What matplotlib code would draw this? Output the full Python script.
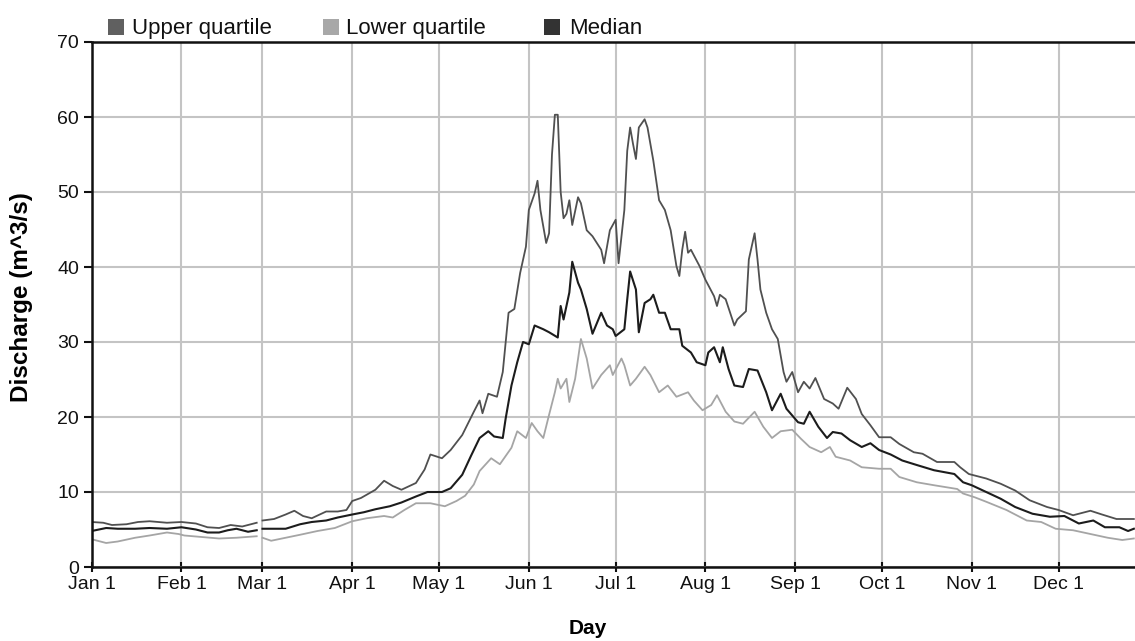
import numpy as np
import matplotlib.pyplot as plt
from matplotlib.patches import Rectangle

plt.rcParams['font.family'] = ['Liberation Sans', 'DejaVu Sans']

# day of year (Jan 1 = 0) and discharge (m^3/s)
upper_days = [0, 4, 7, 12, 16, 20, 26, 31, 36, 40, 44, 48, 52, 57, 58,
              59, 63, 67, 70, 73, 76, 81, 85, 88, 90, 93, 98, 101, 104, 107,
              112, 115, 117, 121, 124, 128, 132, 134, 135, 137, 140, 142, 144,
              146, 148, 150, 151, 153, 154, 155, 157, 158, 159, 160, 161, 162,
              163, 164, 165, 166, 168, 169, 171, 173, 176, 177, 179, 181, 182,
              184, 185, 186, 187, 188, 189, 191, 192, 194, 196, 198, 200, 202,
              203, 204, 205, 206, 207, 210, 212, 215, 216, 217, 219, 222, 223,
              226, 227, 229, 230, 231, 233, 235, 237, 239, 240, 242, 244, 246,
              248, 250, 253, 256, 258, 261, 264, 266, 269, 272, 276, 279, 284,
              287, 292, 298, 300, 303, 309, 314, 319, 324, 330, 334, 339, 345,
              349, 354, 360]
upper_vals = [6.0, 5.9, 5.6, 5.7, 6.0, 6.1, 5.9, 6.0, 5.8, 5.3, 5.2, 5.6, 5.4, 5.9, np.nan,
              6.2, 6.4, 7.0, 7.5, 6.8, 6.5, 7.4, 7.4, 7.6, 8.8, 9.2, 10.3, 11.5, 10.8, 10.3,
              11.2, 13.0, 15.0, 14.5, 15.6, 17.6, 20.7, 22.2, 20.5, 23.1, 22.7, 26.0, 33.9,
              34.4, 39.2, 42.7, 47.6, 49.8, 51.5, 47.6, 43.2, 44.5, 55.0, 60.3, 60.3, 50.0,
              46.5, 47.1, 48.9, 45.6, 49.3, 48.5, 44.9, 44.1, 42.3, 40.5, 44.9, 46.3, 40.5,
              47.6, 55.5, 58.6, 56.4, 54.4, 58.6, 59.7, 58.6, 54.2, 48.9, 47.6, 44.9, 40.1,
              38.8, 42.3, 44.7, 41.9, 42.3, 40.1, 38.3, 36.1, 34.8, 36.3, 35.7, 32.2, 33.0,
              34.1, 41.0, 44.5, 41.0, 37.0, 33.9, 31.7, 30.4, 26.0, 24.7, 26.0, 23.3, 24.7,
              23.8, 25.2, 22.4, 21.8, 21.1, 23.9, 22.4, 20.4, 18.9, 17.3, 17.3, 16.4, 15.3,
              15.1, 14.0, 14.0, 13.3, 12.4, 11.8, 11.1, 10.2, 8.9, 8.0, 7.6, 6.9, 7.5,
              7.0, 6.4, 6.4]

median_days = [0, 5, 9, 15, 20, 26, 31, 36, 40, 44, 47, 50, 54, 57, 58,
               59, 63, 67, 72, 76, 81, 85, 90, 94, 98, 103, 107, 112, 116, 121,
               124, 128, 131, 134, 137, 139, 142, 143, 145, 147, 149, 151, 153,
               156, 158, 161, 162, 163, 165, 166, 168, 169, 171, 173, 176, 178,
               180, 181, 184, 185, 186, 188, 189, 191, 193, 194, 196, 198, 200,
               203, 204, 207, 209, 212, 213, 215, 217, 218, 220, 222, 225, 227,
               230, 233, 235, 238, 240, 244, 246, 248, 251, 254, 256, 259, 262,
               266, 269, 272, 276, 280, 285, 291, 298, 301, 304, 309, 314, 319,
               325, 331, 336, 341, 346, 350, 355, 358, 360]
median_vals = [4.8, 5.2, 5.1, 5.1, 5.2, 5.1, 5.3, 5.0, 4.6, 4.6, 4.9, 5.1, 4.7, 4.9, np.nan,
               5.1, 5.1, 5.1, 5.7, 6.0, 6.2, 6.6, 7.0, 7.3, 7.7, 8.1, 8.6, 9.4, 10.0, 10.0,
               10.5, 12.3, 14.8, 17.2, 18.1, 17.4, 17.2, 19.8, 24.2, 27.3, 30.0, 29.7, 32.2,
               31.7, 31.3, 30.6, 34.8, 33.0, 36.6, 40.7, 37.9, 37.0, 34.4, 31.1, 33.9, 32.2,
               31.7, 30.8, 31.7, 35.7, 39.4, 37.0, 31.3, 35.2, 35.7, 36.3, 33.9, 33.9, 31.7,
               31.7, 29.5, 28.6, 27.3, 26.9, 28.6, 29.3, 27.3, 29.3, 26.4, 24.2, 24.0, 26.4,
               26.2, 23.3, 20.9, 23.1, 21.1, 19.3, 19.1, 20.7, 18.7, 17.2, 18.0, 17.8, 16.9,
               16.0, 16.5, 15.6, 15.0, 14.2, 13.6, 12.9, 12.4, 11.3, 10.9, 10.0, 9.1, 8.0,
               7.1, 6.7, 6.8, 5.8, 6.2, 5.3, 5.3, 4.8, 5.1]

lower_days = [0, 3, 5, 9, 15, 20, 26, 30, 32, 38, 44, 50, 57, 58,
              59, 62, 67, 72, 78, 84, 90, 95, 101, 104, 108, 112, 117, 122, 126,
              129, 132, 134, 138, 141, 145, 147, 150, 152, 154, 156, 158, 160, 161,
              162, 164, 165, 167, 169, 171, 173, 176, 179, 180, 183, 184, 186, 188,
              191, 193, 196, 199, 202, 206, 208, 211, 214, 216, 219, 222, 225, 229,
              232, 235, 238, 242, 245, 248, 252, 255, 257, 262, 266, 272, 276, 279,
              285, 291, 299, 301, 305, 309, 316, 323, 328, 333, 339, 345, 351, 356, 360]
lower_vals = [3.7, 3.4, 3.2, 3.4, 3.9, 4.2, 4.6, 4.4, 4.2, 4.0, 3.8, 3.9, 4.1, np.nan,
              3.9, 3.5, 3.9, 4.3, 4.8, 5.2, 6.1, 6.5, 6.8, 6.6, 7.6, 8.5, 8.5, 8.1, 8.8,
              9.5, 11.0, 12.8, 14.5, 13.7, 15.9, 18.1, 17.2, 19.2, 18.1, 17.2, 20.3, 23.3, 25.1,
              23.8, 25.1, 22.0, 25.1, 30.4, 27.8, 23.8, 25.6, 26.9, 25.6, 27.8, 26.9, 24.2, 25.1,
              26.7, 25.6, 23.3, 24.2, 22.7, 23.3, 22.2, 20.9, 21.6, 22.9, 20.7, 19.4, 19.1, 20.7,
              18.7, 17.2, 18.1, 18.3, 17.1, 16.0, 15.3, 16.0, 14.7, 14.2, 13.3, 13.1, 13.1, 12.0,
              11.3, 10.9, 10.4, 9.8, 9.3, 8.7, 7.6, 6.2, 6.0, 5.1, 4.9, 4.4, 3.9, 3.6, 3.8]

month_days = [0, 31, 59, 90, 120, 151, 181, 212, 243, 273, 304, 334]
month_labels = ["Jan 1", "Feb 1", "Mar 1", "Apr 1", "May 1", "Jun 1",
                "Jul 1", "Aug 1", "Sep 1", "Oct 1", "Nov 1", "Dec 1"]
y_ticks = [0, 10, 20, 30, 40, 50, 60, 70]

W, H = 1135, 641
fig = plt.figure(figsize=(W / 100, H / 100), dpi=100)
ax = fig.add_axes([91.7 / W, 1 - 567 / H, 1 - 91.7 / W, (567 - 42) / H])

ax.plot(upper_days, upper_vals, color="#505050", lw=1.3)
ax.plot(lower_days, lower_vals, color="#a5a5a5", lw=1.3)
ax.plot(median_days, median_vals, color="#1c1c1c", lw=1.5)

ax.set_xlim(0, 360.4)
ax.set_ylim(0, 70)
ax.set_xticks(month_days)
ax.set_xticklabels(month_labels)
ax.set_yticks(y_ticks)
ax.grid(True, color="#c4c4c4", lw=1.5)
ax.set_axisbelow(True)

for s in ["left", "bottom", "top"]:
    ax.spines[s].set_linewidth(1.8)
    ax.spines[s].set_color("#111111")
ax.spines["right"].set_visible(False)
ax.tick_params(axis="both", labelsize=14, colors="#111111", width=1.5)
ax.tick_params(axis="x", length=7, direction="inout", pad=3)
ax.tick_params(axis="y", length=6, direction="out", pad=3)

fig.text(22 / W, 1 - 297 / H, "Discharge (m^3/s)", rotation=90, fontsize=17.5,
         fontweight="bold", ha="center", va="center")
fig.text(588 / W, 1 - 628 / H, "Day", fontsize=15, fontweight="bold",
         ha="center", va="center")

# legend above the plot: grey squares + labels
legend_items = [("Upper quartile", "#606060", 108, 132),
                ("Lower quartile", "#a8a8a8", 323, 346),
                ("Median", "#333333", 544, 569)]
for label, col, sx, tx in legend_items:
    fig.add_artist(Rectangle((sx / W, 1 - 35 / H), 16 / W, 16 / H,
                             transform=fig.transFigure, color=col, lw=0))
    fig.text(tx / W, 1 - 34 / H, label, fontsize=16, va="baseline", ha="left",
             color="#111111")

plt.savefig("out.png", dpi=100)
